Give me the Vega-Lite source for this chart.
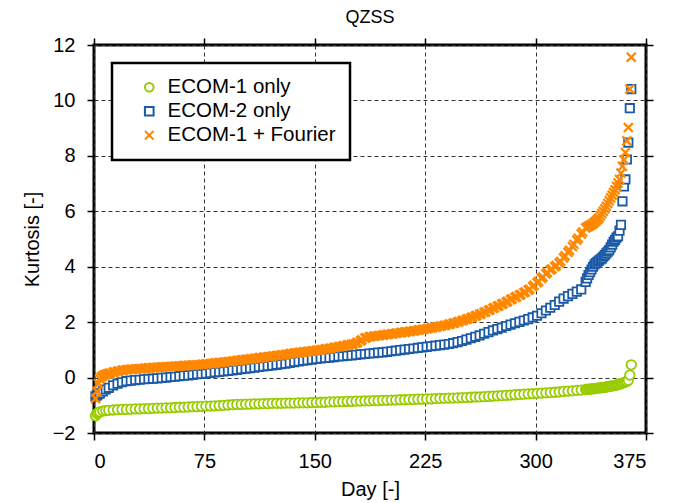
{
  "$schema": "https://vega.github.io/schema/vega-lite/v6.json",
  "width": 552,
  "height": 388,
  "autosize": {"type": "none"},
  "padding": {"left": 94, "top": 45, "right": 30, "bottom": 70},
  "background": "white",
  "title": {"text": "QZSS", "fontSize": 18, "font": "Liberation Sans", "fontWeight": "normal", "color": "black", "offset": 8},
  "config": {
    "font": "Liberation Sans",
    "view": {"stroke": "black", "strokeWidth": 3},
    "axis": {
      "domain": false,
      "tickColor": "black",
      "tickWidth": 1.5,
      "tickSize": 7,
      "labelFont": "Liberation Sans",
      "labelFontSize": 20,
      "labelColor": "black",
      "titleFont": "Liberation Sans",
      "titleFontSize": 20,
      "titleFontWeight": "normal",
      "titleColor": "black",
      "gridColor": "#333333",
      "gridDash": [4, 3],
      "gridWidth": 1,
      "gridOpacity": 1
    },
    "legend": {
      "orient": "none",
      "legendX": 18,
      "legendY": 18,
      "padding": 14,
      "strokeColor": "black",
      "strokeWidth": 2.5,
      "fillColor": "white",
      "labelFont": "Liberation Sans",
      "labelFontSize": 20.5,
      "labelColor": "black",
      "labelLimit": 400,
      "symbolOffset": 13,
      "labelOffset": 8,
      "rowPadding": 3,
      "symbolSize": 75,
      "symbolStrokeWidth": 2,
      "symbolFillColor": "white"
    }
  },
  "data": {
    "values": [
      {"d":1,"a":-1.38,"b":-0.68,"c":-0.76},
      {"d":2,"a":-1.30,"b":-0.64,"c":-0.50},
      {"d":3,"a":-1.26,"b":-0.60,"c":-0.22},
      {"d":4,"a":-1.24,"b":-0.57,"c":-0.05},
      {"d":6,"a":-1.21,"b":-0.50,"c":0.06},
      {"d":8,"a":-1.19,"b":-0.43,"c":0.11},
      {"d":10,"a":-1.18,"b":-0.37,"c":0.15},
      {"d":13,"a":-1.17,"b":-0.28,"c":0.19},
      {"d":16,"a":-1.16,"b":-0.22,"c":0.23},
      {"d":19,"a":-1.15,"b":-0.17,"c":0.26},
      {"d":22,"a":-1.15,"b":-0.13,"c":0.28},
      {"d":25,"a":-1.14,"b":-0.11,"c":0.30},
      {"d":28,"a":-1.13,"b":-0.09,"c":0.31},
      {"d":31,"a":-1.13,"b":-0.08,"c":0.32},
      {"d":34,"a":-1.12,"b":-0.06,"c":0.33},
      {"d":37,"a":-1.12,"b":-0.05,"c":0.35},
      {"d":40,"a":-1.11,"b":-0.04,"c":0.36},
      {"d":43,"a":-1.10,"b":-0.03,"c":0.37},
      {"d":46,"a":-1.10,"b":-0.01,"c":0.38},
      {"d":49,"a":-1.09,"b":0.00,"c":0.39},
      {"d":52,"a":-1.09,"b":0.02,"c":0.40},
      {"d":55,"a":-1.08,"b":0.03,"c":0.41},
      {"d":58,"a":-1.07,"b":0.05,"c":0.42},
      {"d":61,"a":-1.07,"b":0.07,"c":0.43},
      {"d":64,"a":-1.06,"b":0.08,"c":0.44},
      {"d":67,"a":-1.05,"b":0.10,"c":0.45},
      {"d":70,"a":-1.05,"b":0.12,"c":0.46},
      {"d":73,"a":-1.04,"b":0.13,"c":0.47},
      {"d":76,"a":-1.03,"b":0.15,"c":0.49},
      {"d":79,"a":-1.03,"b":0.17,"c":0.50},
      {"d":82,"a":-1.02,"b":0.19,"c":0.52},
      {"d":85,"a":-1.01,"b":0.20,"c":0.54},
      {"d":88,"a":-1.00,"b":0.22,"c":0.55},
      {"d":91,"a":-0.99,"b":0.24,"c":0.57},
      {"d":94,"a":-0.98,"b":0.26,"c":0.59},
      {"d":97,"a":-0.97,"b":0.28,"c":0.61},
      {"d":100,"a":-0.97,"b":0.30,"c":0.63},
      {"d":103,"a":-0.96,"b":0.32,"c":0.65},
      {"d":106,"a":-0.96,"b":0.34,"c":0.67},
      {"d":109,"a":-0.95,"b":0.36,"c":0.69},
      {"d":112,"a":-0.95,"b":0.38,"c":0.71},
      {"d":115,"a":-0.94,"b":0.40,"c":0.73},
      {"d":118,"a":-0.94,"b":0.42,"c":0.75},
      {"d":121,"a":-0.93,"b":0.44,"c":0.77},
      {"d":124,"a":-0.93,"b":0.46,"c":0.79},
      {"d":127,"a":-0.93,"b":0.48,"c":0.81},
      {"d":130,"a":-0.92,"b":0.50,"c":0.83},
      {"d":133,"a":-0.92,"b":0.53,"c":0.86},
      {"d":136,"a":-0.92,"b":0.56,"c":0.88},
      {"d":139,"a":-0.91,"b":0.58,"c":0.90},
      {"d":142,"a":-0.91,"b":0.61,"c":0.92},
      {"d":145,"a":-0.91,"b":0.63,"c":0.94},
      {"d":148,"a":-0.90,"b":0.65,"c":0.96},
      {"d":151,"a":-0.90,"b":0.67,"c":0.98},
      {"d":154,"a":-0.89,"b":0.69,"c":1.00},
      {"d":157,"a":-0.89,"b":0.71,"c":1.03},
      {"d":160,"a":-0.88,"b":0.72,"c":1.05},
      {"d":163,"a":-0.88,"b":0.74,"c":1.08},
      {"d":166,"a":-0.87,"b":0.76,"c":1.11},
      {"d":169,"a":-0.87,"b":0.77,"c":1.14},
      {"d":172,"a":-0.86,"b":0.79,"c":1.17},
      {"d":175,"a":-0.86,"b":0.80,"c":1.20},
      {"d":178,"a":-0.85,"b":0.82,"c":1.24},
      {"d":181,"a":-0.85,"b":0.84,"c":1.32},
      {"d":184,"a":-0.84,"b":0.85,"c":1.42},
      {"d":187,"a":-0.84,"b":0.87,"c":1.47},
      {"d":190,"a":-0.83,"b":0.88,"c":1.49},
      {"d":193,"a":-0.83,"b":0.90,"c":1.51},
      {"d":196,"a":-0.82,"b":0.91,"c":1.53},
      {"d":199,"a":-0.82,"b":0.93,"c":1.55},
      {"d":202,"a":-0.81,"b":0.95,"c":1.57},
      {"d":205,"a":-0.81,"b":0.97,"c":1.60},
      {"d":208,"a":-0.80,"b":0.99,"c":1.62},
      {"d":211,"a":-0.80,"b":1.01,"c":1.64},
      {"d":214,"a":-0.79,"b":1.03,"c":1.66},
      {"d":217,"a":-0.79,"b":1.05,"c":1.68},
      {"d":220,"a":-0.78,"b":1.07,"c":1.71},
      {"d":223,"a":-0.78,"b":1.09,"c":1.73},
      {"d":226,"a":-0.77,"b":1.11,"c":1.76},
      {"d":229,"a":-0.77,"b":1.13,"c":1.79},
      {"d":232,"a":-0.76,"b":1.15,"c":1.82},
      {"d":235,"a":-0.75,"b":1.17,"c":1.85},
      {"d":238,"a":-0.75,"b":1.19,"c":1.88},
      {"d":241,"a":-0.74,"b":1.21,"c":1.92},
      {"d":244,"a":-0.74,"b":1.24,"c":1.96},
      {"d":247,"a":-0.73,"b":1.28,"c":2.00},
      {"d":250,"a":-0.72,"b":1.32,"c":2.05},
      {"d":253,"a":-0.72,"b":1.37,"c":2.10},
      {"d":256,"a":-0.71,"b":1.42,"c":2.16},
      {"d":259,"a":-0.70,"b":1.47,"c":2.22},
      {"d":262,"a":-0.70,"b":1.52,"c":2.28},
      {"d":265,"a":-0.69,"b":1.58,"c":2.35},
      {"d":268,"a":-0.68,"b":1.64,"c":2.42},
      {"d":271,"a":-0.67,"b":1.70,"c":2.50},
      {"d":274,"a":-0.66,"b":1.75,"c":2.57},
      {"d":277,"a":-0.65,"b":1.80,"c":2.64},
      {"d":280,"a":-0.64,"b":1.86,"c":2.72},
      {"d":283,"a":-0.63,"b":1.91,"c":2.81},
      {"d":286,"a":-0.62,"b":1.96,"c":2.89},
      {"d":289,"a":-0.61,"b":2.01,"c":2.97},
      {"d":292,"a":-0.60,"b":2.06,"c":3.06},
      {"d":295,"a":-0.59,"b":2.11,"c":3.15},
      {"d":298,"a":-0.58,"b":2.17,"c":3.28},
      {"d":301,"a":-0.57,"b":2.23,"c":3.42},
      {"d":304,"a":-0.56,"b":2.32,"c":3.58},
      {"d":307,"a":-0.55,"b":2.42,"c":3.74},
      {"d":310,"a":-0.54,"b":2.52,"c":3.88},
      {"d":313,"a":-0.53,"b":2.62,"c":4.00},
      {"d":316,"a":-0.52,"b":2.74,"c":4.13},
      {"d":319,"a":-0.50,"b":2.85,"c":4.32},
      {"d":322,"a":-0.49,"b":2.94,"c":4.52},
      {"d":325,"a":-0.48,"b":3.02,"c":4.73},
      {"d":328,"a":-0.46,"b":3.10,"c":4.96},
      {"d":331,"a":-0.45,"b":3.18,"c":5.18},
      {"d":334,"a":-0.43,"b":3.45,"c":5.40},
      {"d":335,"a":-0.43,"b":3.58,"c":5.43},
      {"d":336,"a":-0.42,"b":3.70,"c":5.46},
      {"d":337,"a":-0.42,"b":3.80,"c":5.49},
      {"d":338,"a":-0.41,"b":3.90,"c":5.52},
      {"d":339,"a":-0.40,"b":4.00,"c":5.55},
      {"d":340,"a":-0.40,"b":4.08,"c":5.60},
      {"d":341,"a":-0.39,"b":4.13,"c":5.65},
      {"d":342,"a":-0.38,"b":4.18,"c":5.70},
      {"d":343,"a":-0.38,"b":4.22,"c":5.76},
      {"d":344,"a":-0.37,"b":4.26,"c":5.84},
      {"d":345,"a":-0.36,"b":4.30,"c":5.92},
      {"d":346,"a":-0.36,"b":4.36,"c":6.00},
      {"d":347,"a":-0.35,"b":4.42,"c":6.09},
      {"d":348,"a":-0.34,"b":4.48,"c":6.18},
      {"d":349,"a":-0.33,"b":4.54,"c":6.28},
      {"d":350,"a":-0.32,"b":4.60,"c":6.38},
      {"d":351,"a":-0.31,"b":4.70,"c":6.48},
      {"d":352,"a":-0.30,"b":4.80,"c":6.58},
      {"d":353,"a":-0.29,"b":4.90,"c":6.68},
      {"d":354,"a":-0.28,"b":4.97,"c":6.78},
      {"d":355,"a":-0.27,"b":5.05,"c":6.90},
      {"d":356,"a":-0.25,"b":5.10,"c":7.02},
      {"d":357,"a":-0.24,"b":5.30,"c":7.15},
      {"d":358,"a":-0.22,"b":5.51,"c":7.38},
      {"d":359,"a":-0.20,"b":6.36,"c":7.62},
      {"d":360,"a":-0.18,"b":6.90,"c":7.86},
      {"d":361,"a":-0.16,"b":7.15,"c":8.12},
      {"d":362,"a":-0.14,"b":7.87,"c":8.54},
      {"d":363,"a":-0.10,"b":8.48,"c":9.02},
      {"d":364,"a":0.09,"b":9.72,"c":10.41},
      {"d":365,"a":0.46,"b":10.41,"c":11.56},
      {"d":5,"c":0.02},{"d":7,"c":0.09},{"d":9,"c":0.13},
      {"d":11,"c":0.16},{"d":14,"c":0.20},{"d":17,"c":0.24},{"d":20,"c":0.27},{"d":23,"c":0.29},
      {"d":26,"c":0.30},{"d":29,"c":0.31},{"d":32,"c":0.32},{"d":35,"c":0.34},{"d":38,"c":0.35},
      {"d":41,"c":0.36},{"d":44,"c":0.37},{"d":47,"c":0.38},{"d":50,"c":0.39},{"d":53,"c":0.40},
      {"d":56,"c":0.41},{"d":59,"c":0.42},{"d":62,"c":0.43},{"d":65,"c":0.44},{"d":68,"c":0.45},
      {"d":71,"c":0.46},{"d":74,"c":0.48},{"d":77,"c":0.49},{"d":80,"c":0.51},{"d":83,"c":0.53},
      {"d":86,"c":0.54},{"d":89,"c":0.56},{"d":92,"c":0.58},{"d":95,"c":0.60},{"d":98,"c":0.62},
      {"d":101,"c":0.64},{"d":104,"c":0.66},{"d":107,"c":0.68},{"d":110,"c":0.70},{"d":113,"c":0.72},
      {"d":116,"c":0.74},{"d":119,"c":0.76},{"d":122,"c":0.78},{"d":125,"c":0.80},{"d":128,"c":0.82},
      {"d":131,"c":0.84},{"d":134,"c":0.87},{"d":137,"c":0.89},{"d":140,"c":0.91},{"d":143,"c":0.93},
      {"d":146,"c":0.95},{"d":149,"c":0.97},{"d":152,"c":0.99},{"d":155,"c":1.01},{"d":158,"c":1.04},
      {"d":161,"c":1.06},{"d":164,"c":1.09},{"d":167,"c":1.12},{"d":170,"c":1.15},{"d":173,"c":1.18},
      {"d":176,"c":1.21},{"d":179,"c":1.27},{"d":182,"c":1.36},{"d":185,"c":1.44},{"d":188,"c":1.48},
      {"d":191,"c":1.50},{"d":194,"c":1.52},{"d":197,"c":1.54},{"d":200,"c":1.56},{"d":203,"c":1.58},
      {"d":206,"c":1.61},{"d":209,"c":1.63},{"d":212,"c":1.65},{"d":215,"c":1.67},{"d":218,"c":1.69},
      {"d":221,"c":1.72},{"d":224,"c":1.74},{"d":227,"c":1.77},{"d":230,"c":1.80},{"d":233,"c":1.83},
      {"d":236,"c":1.86},{"d":239,"c":1.89},{"d":242,"c":1.93},{"d":245,"c":1.97},{"d":248,"c":2.02},
      {"d":251,"c":2.07},{"d":254,"c":2.12},{"d":257,"c":2.18},{"d":260,"c":2.24},{"d":263,"c":2.30},
      {"d":266,"c":2.37},{"d":269,"c":2.45},{"d":272,"c":2.52},{"d":275,"c":2.59},{"d":278,"c":2.67},
      {"d":281,"c":2.75},{"d":284,"c":2.84},{"d":287,"c":2.92},{"d":290,"c":3.00},{"d":293,"c":3.09},
      {"d":296,"c":3.19},{"d":299,"c":3.33},{"d":302,"c":3.47},{"d":305,"c":3.63},{"d":308,"c":3.79},
      {"d":311,"c":3.92},{"d":314,"c":4.04},{"d":317,"c":4.19},{"d":320,"c":4.39},{"d":323,"c":4.59},
      {"d":326,"c":4.81},{"d":329,"c":5.03},{"d":332,"c":5.25}
    ]
  },
  "resolve": {"axis": {"x": "independent", "y": "independent"}},
  "layer": [
    {
      "mark": {"type": "point", "fill": "white", "opacity": 1, "strokeWidth": 1.8, "size": 90},
      "encoding": {
        "x": {"field": "d", "type": "quantitative", "scale": {"domain": [0, 375], "nice": false, "zero": false},
              "axis": {"orient": "bottom", "values": [0, 75, 150, 225, 300, 375], "title": "Day [-]", "grid": true, "labelPadding": 11, "titlePadding": 8}},
        "y": {"field": "a", "type": "quantitative", "scale": {"domain": [-2, 12], "nice": false, "zero": false},
              "axis": {"orient": "left", "values": [-2, 0, 2, 4, 6, 8, 10, 12], "title": "Kurtosis [-]", "grid": true, "labelPadding": 12, "titlePadding": 10}},
        "stroke": {"datum": "ECOM-1 only", "type": "nominal",
                   "scale": {"domain": ["ECOM-1 only", "ECOM-2 only", "ECOM-1 + Fourier"], "range": ["#99cc00", "#1a5aa6", "#ff8800"]},
                   "legend": {"title": null}},
        "shape": {"datum": "ECOM-1 only", "type": "nominal",
                  "scale": {"domain": ["ECOM-1 only", "ECOM-2 only", "ECOM-1 + Fourier"], "range": ["circle", "square", "M-1,-1L1,1M-1,1L1,-1"]},
                  "legend": {"title": null}}
      }
    },
    {
      "mark": {"type": "point", "fill": "white", "opacity": 1, "strokeWidth": 1.8, "size": 70},
      "encoding": {
        "x": {"field": "d", "type": "quantitative",
              "axis": {"orient": "top", "values": [0, 75, 150, 225, 300, 375], "labels": false, "title": null, "grid": false}},
        "y": {"field": "b", "type": "quantitative",
              "axis": {"orient": "right", "values": [-2, 0, 2, 4, 6, 8, 10, 12], "labels": false, "title": null, "grid": false}},
        "stroke": {"datum": "ECOM-2 only", "type": "nominal"},
        "shape": {"datum": "ECOM-2 only", "type": "nominal"}
      }
    },
    {
      "mark": {"type": "point", "fill": "white", "opacity": 1, "strokeWidth": 2.3, "size": 80},
      "encoding": {
        "x": {"field": "d", "type": "quantitative", "axis": null},
        "y": {"field": "c", "type": "quantitative", "axis": null},
        "stroke": {"datum": "ECOM-1 + Fourier", "type": "nominal"},
        "shape": {"datum": "ECOM-1 + Fourier", "type": "nominal"}
      }
    }
  ]
}
